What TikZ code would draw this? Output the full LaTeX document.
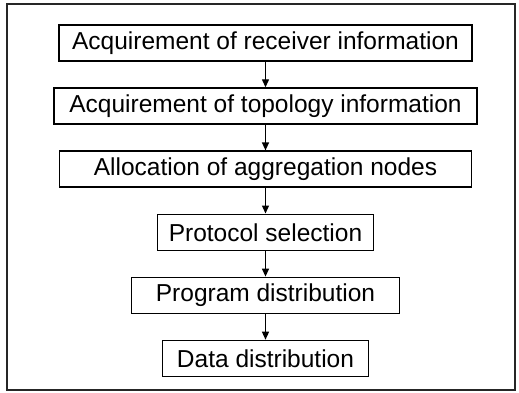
\documentclass[tikz,border=0pt]{standalone}
\usepackage{fontspec}
\setmainfont{Liberation Sans}
\usetikzlibrary{arrows.meta,positioning}

\begin{document}
\begin{tikzpicture}[
  x=1pt, y=1pt,
  font=\fontsize{24.5}{28}\selectfont,
  stepbox/.style={draw, line width=1.6pt, minimum height=36pt, inner sep=0pt},
  arr/.style={-{Triangle[length=8pt,width=7pt]}, line width=1.3pt},
  node distance=25.5pt
]
\useasboundingbox (0,0) rectangle (519,392);
\draw[line width=1.6pt, draw=black!85] (7,2) rectangle (515,388);
\node[stepbox, minimum width=413pt] (receiver) at (265.5,349)
  {Acquirement of receiver information};
\node[stepbox, minimum width=423pt, below=of receiver] (topology)
  {Acquirement of topology information};
\node[stepbox, minimum width=412pt, below=of topology] (allocation)
  {Allocation of aggregation nodes};
\node[stepbox, minimum width=216pt, below=of allocation] (protocol)
  {Protocol selection};
\node[stepbox, minimum width=268pt, below=of protocol] (program)
  {Program distribution};
\node[stepbox, minimum width=206pt, below=of program] (data)
  {Data distribution};
\foreach \a/\b in {receiver/topology, topology/allocation,
                   allocation/protocol, protocol/program, program/data}
  \draw[arr] (\a.south) -- (\b.north);
\end{tikzpicture}
\end{document}
